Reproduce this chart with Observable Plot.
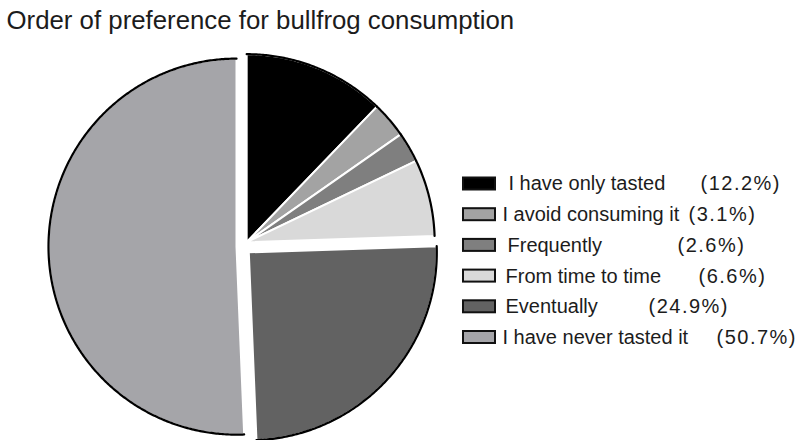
<!DOCTYPE html>
<html>
<head>
<meta charset="utf-8">
<script src="https://cdn.jsdelivr.net/npm/d3@7"></script>
<script src="https://cdn.jsdelivr.net/npm/@observablehq/plot@0.6"></script>
<style>
  html, body { margin: 0; padding: 0; background: #fff; }
  #chart { width: 801px; height: 440px; }
</style>
</head>
<body>
<div id="chart"></div>
<script>
// ---- data ----
const title = "Order of preference for bullfrog consumption";
const categories = ["I have only tasted", "I avoid consuming it", "Frequently", "From time to time", "Eventually", "I have never tasted it"];
const percents = [12.2, 3.1, 2.6, 6.6, 24.9, 50.7];
const colors = ["#000000", "#a3a3a3", "#7f7f7f", "#d9d9d9", "#626262", "#a5a5a9"];

// ---- layout (not data) ----
const pie = {cx: 242, cy: 246, r: 188};
const explodeGroup = [0, 0, 0, 0, 1, 2];
const explodeDist = [6, 8.6, 6];
const legend = {swX1: 463, swX2: 495, y0: 183.5, dy: 30.7, swH: 12};
const labelX = [508, 502, 507, 505, 505, 502];
const pctX = [700, 688, 677, 698, 648, 716];

// ---- derived geometry ----
const total = d3.sum(percents);
const cum = [0];
percents.forEach(p => cum.push(cum[cum.length - 1] + p));
const ang = f => f / total * 2 * Math.PI;

// group bisectors
const groupCenters = explodeDist.map((dist, g) => {
  const idx = explodeGroup.map((gg, i) => gg === g ? i : -1).filter(i => i >= 0);
  const a0 = ang(cum[idx[0]]), a1 = ang(cum[idx[idx.length - 1] + 1]);
  const mid = (a0 + a1) / 2;
  return {x: pie.cx + dist * Math.sin(mid), y: pie.cy - dist * Math.cos(mid)};
});

const slices = [];
const arcs = [];
categories.forEach((cat, i) => {
  const c = groupCenters[explodeGroup[i]];
  const a0 = ang(cum[i]), a1 = ang(cum[i + 1]);
  const n = Math.max(2, Math.ceil((a1 - a0) / (Math.PI / 360)));
  slices.push({cat, k: 0, x: c.x, y: c.y});
  for (let j = 0; j <= n; j++) {
    const t = a0 + (a1 - a0) * j / n;
    const p = {cat, k: j + 1, x: c.x + pie.r * Math.sin(t), y: c.y - pie.r * Math.cos(t)};
    slices.push(p);
    arcs.push(p);
  }
});

const legendRows = categories.map((cat, i) => ({
  cat,
  pct: `(${percents[i].toFixed(1)}%)`,
  y: legend.y0 + i * legend.dy,
  lx: labelX[i],
  px: pctX[i]
}));

const font = "'Liberation Sans', Arial, Helvetica, sans-serif";

const plot = Plot.plot({
  width: 801,
  height: 440,
  margin: 0,
  style: {background: "#fff", fontFamily: font},
  x: {domain: [0, 801], range: [0, 801], axis: null},
  y: {domain: [0, 440], range: [0, 440], axis: null},
  color: {type: "ordinal", domain: categories, range: colors},
  marks: [
    Plot.text([title], {
      x: () => 6, y: () => 28, text: d => d,
      textAnchor: "start", lineAnchor: "bottom",
      fontSize: 25.8, fill: "#1c1c1c", fontFamily: font
    }),
    Plot.line(slices, {
      x: "x", y: "y", z: "cat", fill: "cat",
      stroke: "#fff", strokeWidth: 2, strokeLinejoin: "round",
      curve: "linear-closed"
    }),
    Plot.line(arcs, {
      x: "x", y: "y", z: "cat",
      stroke: "#000", strokeWidth: 2.2
    }),
    Plot.rect(legendRows, {
      x1: () => legend.swX1, x2: () => legend.swX2,
      y1: d => d.y - legend.swH / 2, y2: d => d.y + legend.swH / 2,
      fill: "cat", stroke: "#111", strokeWidth: 2
    }),
    Plot.text(legendRows, {
      x: "lx", y: "y", text: "cat",
      textAnchor: "start", lineAnchor: "middle",
      fontSize: 20, fill: "#1c1c1c", fontFamily: font
    }),
    Plot.text(legendRows, {
      x: "px", y: "y", text: "pct",
      textAnchor: "start", lineAnchor: "middle",
      fontSize: 20, fill: "#1c1c1c", fontFamily: font
    })
  ]
});

d3.select(plot).selectAll("text")
  .filter(function () { return /^\(.*%\)$/.test(this.textContent); })
  .attr("letter-spacing", "1.5px")
  .style("letter-spacing", "1.5px");
document.getElementById("chart").appendChild(plot);
</script>
</body>
</html>
